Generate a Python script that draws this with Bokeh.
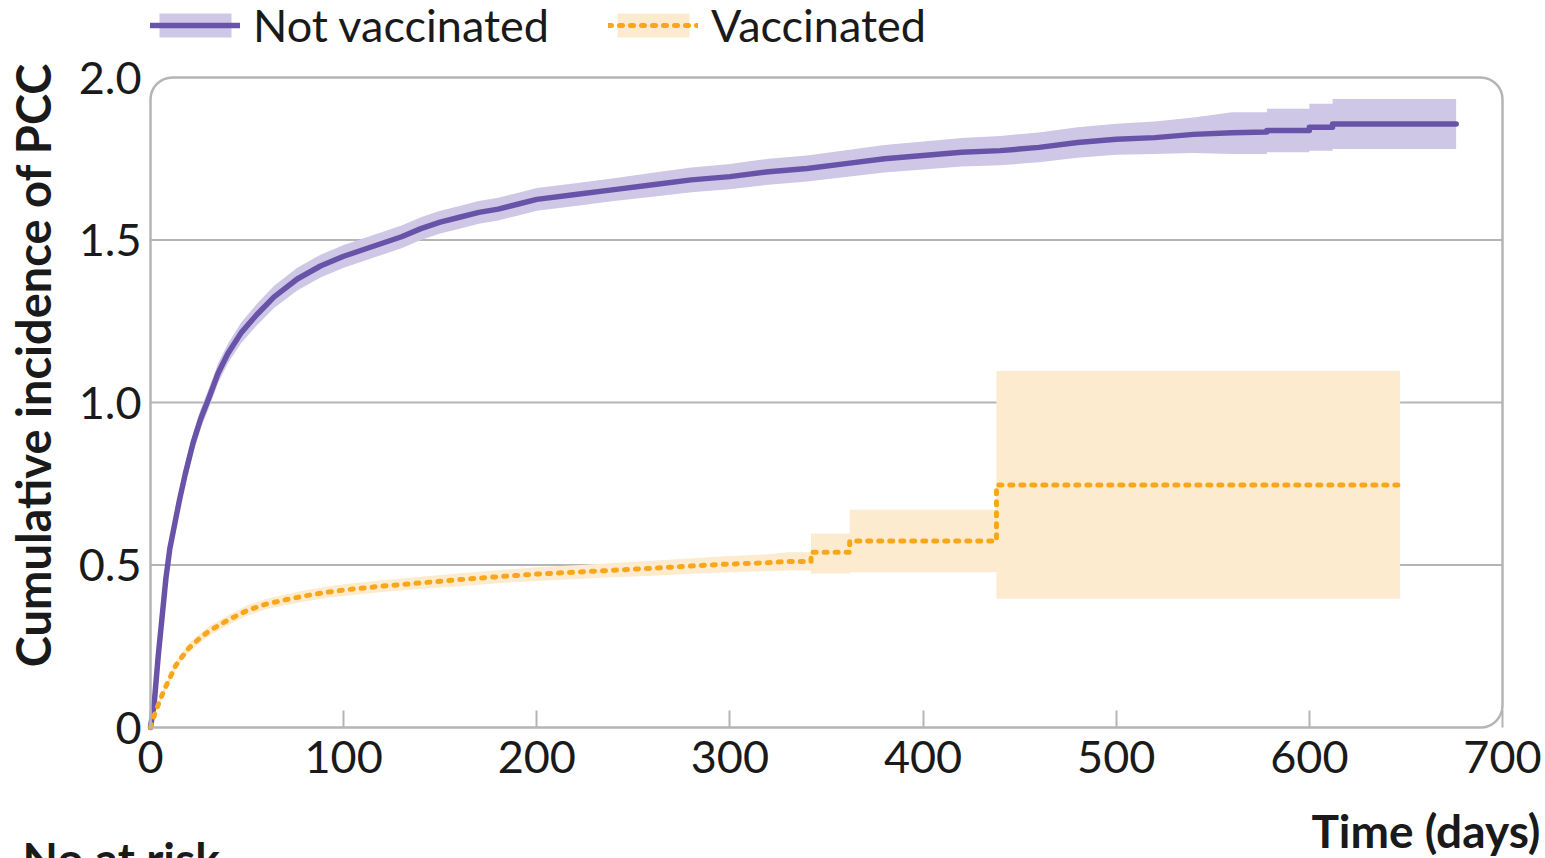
from bokeh.plotting import figure
from bokeh.models import (Range1d, BoxAnnotation, Legend, LegendItem, Label,
                          FixedTicker, PrintfTickFormatter, ColumnDataSource)
from bokeh.embed import file_html
from bokeh.resources import INLINE

# ---------------- data ----------------
# Not vaccinated: time (days), cumulative incidence, lower / upper CI
days_nv = [0, 1, 2, 3, 4, 5, 6, 7, 8, 10, 12, 15, 18, 22, 26, 30, 35, 40, 47, 55, 64, 76, 88, 100,
           110, 120, 130, 140, 150, 160, 170, 180, 190, 200, 220, 240, 260, 280, 300,
           320, 340, 360, 380, 400, 420, 440, 460, 480, 500, 520, 540, 560,
           578, 578, 600, 600, 612, 612, 676]
inc_nv = [0, 0.04, 0.08, 0.15, 0.22, 0.28, 0.34, 0.40, 0.46, 0.55, 0.61, 0.70, 0.78, 0.875, 0.95,
          1.01, 1.09, 1.15, 1.215, 1.27, 1.325, 1.38, 1.42, 1.45,
          1.47, 1.49, 1.51, 1.535, 1.555, 1.57, 1.585, 1.595,
          1.61, 1.625, 1.64, 1.655, 1.67, 1.685, 1.695, 1.71, 1.72, 1.735, 1.75, 1.76, 1.77,
          1.775, 1.785, 1.80, 1.81, 1.815, 1.825, 1.83,
          1.832, 1.837, 1.837, 1.847, 1.847, 1.857, 1.857]
lo_nv = [0, 0.03, 0.065, 0.13, 0.195, 0.25, 0.31, 0.37, 0.43, 0.52, 0.58, 0.67, 0.75, 0.845, 0.92,
         0.98, 1.06, 1.12, 1.183, 1.237, 1.291, 1.345, 1.385, 1.415,
         1.435, 1.455, 1.475, 1.50, 1.52, 1.535, 1.55, 1.56,
         1.575, 1.59, 1.605, 1.62, 1.633, 1.647, 1.656, 1.67, 1.68, 1.694, 1.708, 1.717, 1.726,
         1.73, 1.739, 1.753, 1.762, 1.765, 1.768, 1.765,
         1.765, 1.770, 1.770, 1.775, 1.775, 1.78, 1.78]
hi_nv = [0, 0.05, 0.095, 0.17, 0.245, 0.31, 0.37, 0.43, 0.49, 0.58, 0.64, 0.73, 0.81, 0.905, 0.98,
         1.04, 1.12, 1.18, 1.247, 1.303, 1.359, 1.415, 1.455, 1.485,
         1.505, 1.525, 1.545, 1.57, 1.59, 1.605, 1.62, 1.63,
         1.645, 1.66, 1.675, 1.69, 1.707, 1.723, 1.734, 1.75, 1.76, 1.776, 1.792, 1.803, 1.814,
         1.82, 1.831, 1.847, 1.858, 1.865, 1.877, 1.893,
         1.893, 1.904, 1.904, 1.919, 1.919, 1.934, 1.934]

# Vaccinated
days_v = [0, 2, 4, 7, 10, 13, 16, 20, 25, 30, 35, 40, 50, 60, 70, 80, 90, 100,
          120, 140, 160, 180, 200, 220, 240, 260, 280, 300, 320, 330,
          342, 342, 362, 362, 438, 438, 647]
inc_v = [0, 0.038, 0.07, 0.115, 0.152, 0.19, 0.215, 0.245, 0.272, 0.295, 0.313, 0.33, 0.36,
         0.38, 0.393, 0.405, 0.415, 0.423, 0.435, 0.445, 0.455, 0.464, 0.472, 0.478, 0.484,
         0.49, 0.497, 0.503, 0.507, 0.511,
         0.511, 0.539, 0.539, 0.574, 0.574, 0.746, 0.746]
lo_v = [0, 0.033, 0.062, 0.105, 0.141, 0.178, 0.202, 0.231, 0.258, 0.28, 0.298, 0.315, 0.344,
        0.364, 0.377, 0.388, 0.398, 0.405, 0.417, 0.426, 0.435, 0.444, 0.451, 0.457, 0.462,
        0.467, 0.473, 0.478, 0.481, 0.483,
        0.483, 0.474, 0.474, 0.478, 0.478, 0.396, 0.396]
hi_v = [0, 0.043, 0.078, 0.125, 0.163, 0.202, 0.228, 0.259, 0.286, 0.31, 0.328, 0.345, 0.376,
        0.396, 0.409, 0.422, 0.432, 0.441, 0.453, 0.464, 0.475, 0.484, 0.493, 0.499, 0.506,
        0.513, 0.521, 0.528, 0.533, 0.539,
        0.539, 0.597, 0.597, 0.670, 0.670, 1.097, 1.097]

series_labels = ["Not vaccinated", "Vaccinated"]
x_ticks = [0, 100, 200, 300, 400, 500, 600, 700]
y_ticks = [0, 0.5, 1.0, 1.5, 2.0]
grid_y = [0.5, 1.0, 1.5]
y_title = "Cumulative incidence of PCC"
x_title = "Time (days)"
risk_title = "No at risk"

# ---------------- styling / layout ----------------
FONT = "Lato"
TXT = "#1a1a1a"
PURPLE = "#6953a8"
PURPLE_BAND = "#cec8e6"
ORANGE = "#f9a61a"
ORANGE_BAND = "#fdebcf"
GREY = "#b5b5b5"

W, H = 1545, 858
# where the data box sits on the canvas (pixels)
BOX_L, BOX_R, BOX_T, BOX_B = 150, 1502, 77, 727
x0, x1 = x_ticks[0], x_ticks[-1]
y0, y1 = y_ticks[0], y_ticks[-1]
sx = (BOX_R - BOX_L) / (x1 - x0)
sy = (BOX_B - BOX_T) / (y1 - y0)

# the frame covers the whole canvas; axes are drawn at fixed locations
p = figure(width=W, height=H,
           x_range=Range1d(x0 - BOX_L / sx, x1 + (W - BOX_R) / sx),
           y_range=Range1d(y0 - (H - BOX_B) / sy, y1 + BOX_T / sy),
           output_backend="svg", toolbar_location=None,
           min_border_left=0, min_border_right=0, min_border_top=0, min_border_bottom=0)
p.outline_line_color = None
p.background_fill_color = "white"
p.xgrid.visible = False
p.ygrid.visible = False

# horizontal grid lines inside the box
p.segment(x0=[x0] * len(grid_y), x1=[x1] * len(grid_y), y0=grid_y, y1=grid_y,
          line_color=GREY, line_width=2, level="underlay")

src_nv = ColumnDataSource(dict(t=days_nv, y=inc_nv, lo=lo_nv, hi=hi_nv))
src_v = ColumnDataSource(dict(t=days_v, y=inc_v, lo=lo_v, hi=hi_v))

band_nv = p.varea(x="t", y1="lo", y2="hi", source=src_nv, fill_color=PURPLE_BAND, fill_alpha=1)
band_v = p.varea(x="t", y1="lo", y2="hi", source=src_v, fill_color=ORANGE_BAND, fill_alpha=1)
line_nv = p.line(x="t", y="y", source=src_nv, line_color=PURPLE, line_width=5.5,
                 line_join="round", line_cap="round")
line_v = p.line(x="t", y="y", source=src_v, line_color=ORANGE, line_width=5,
                line_dash="3 8", line_cap="round")

# rounded box
frame = BoxAnnotation(left=x0, right=x1, bottom=y0, top=y1, fill_alpha=0,
                      line_color=GREY, line_alpha=1, line_width=2.5,
                      border_radius=dict(top_left=22, top_right=22, bottom_right=22, bottom_left=0))
p.add_layout(frame)

# x axis (at y = 0)
xa = p.xaxis[0]
xa.fixed_location = y0
xa.bounds = (x0, x1)
xa.ticker = FixedTicker(ticks=x_ticks)
xa.axis_line_color = None
xa.major_tick_in = 17
xa.major_tick_out = 0
xa.major_tick_line_color = GREY
xa.major_tick_line_width = 2
xa.minor_tick_line_color = None
xa.major_label_standoff = 13
xa.major_label_text_font = FONT
xa.major_label_text_font_size = "45px"
xa.major_label_text_color = TXT

# y axis (at x = 0); bounds reach a little above the box so the title sits where the reference has it
ya = p.yaxis[0]
ya.fixed_location = x0
ya.bounds = (y0 - 0.005, 2.248)
ya.ticker = FixedTicker(ticks=y_ticks)
ya.formatter = PrintfTickFormatter(format="%.1f")
ya.major_label_overrides = {0: "0"}
ya.axis_line_color = None
ya.major_tick_line_color = None
ya.minor_tick_line_color = None
ya.major_tick_in = 0
ya.major_tick_out = 0
ya.major_label_standoff = 9
ya.major_label_text_font = FONT
ya.major_label_text_font_size = "45px"
ya.major_label_text_color = TXT
ya.axis_label = y_title
ya.axis_label_text_font = FONT
ya.axis_label_text_font_style = "bold"
ya.axis_label_text_font_size = "47px"
ya.axis_label_text_color = TXT
ya.axis_label_standoff = 15

# legend above the box
legend = Legend(items=[LegendItem(label=series_labels[0], renderers=[band_nv, line_nv]),
                       LegendItem(label=series_labels[1], renderers=[band_v, line_v])],
                location=(BOX_L, H - 52), orientation="horizontal",
                glyph_width=90, glyph_height=30, label_standoff=13, spacing=59,
                padding=0, margin=0, border_line_color=None, background_fill_alpha=0,
                label_text_font=FONT, label_text_font_size="45px", label_text_color=TXT)
p.add_layout(legend)

# x title and "No at risk"
p.add_layout(Label(x=x1, y=y0, x_offset=38, y_offset=-103, text=x_title,
                   text_font=FONT, text_font_style="bold", text_font_size="46px",
                   text_color=TXT, text_align="right", text_baseline="middle"))
p.add_layout(Label(x=x0, y=y0, x_offset=-128, y_offset=-131, text=risk_title,
                   text_font=FONT, text_font_style="bold", text_font_size="46px",
                   text_color=TXT, text_align="left", text_baseline="middle"))

open("out.html", "w").write(file_html(p, INLINE))
